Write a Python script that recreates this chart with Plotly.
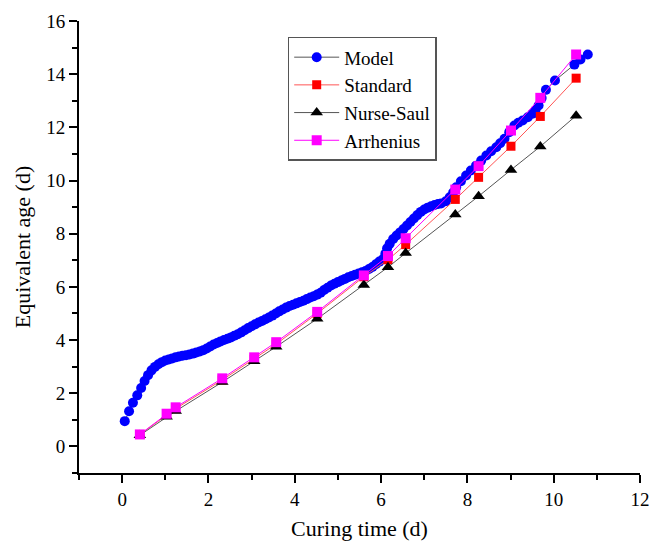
import plotly.graph_objects as go

# Model (blue circles)
model_x = [0.06, 0.16, 0.25, 0.35, 0.44, 0.52, 0.60, 0.68, 0.76, 0.84, 0.92, 1.00, 1.08, 1.16,
           1.24, 1.32, 1.40, 1.48, 1.56, 1.64, 1.72, 1.80, 1.88, 1.96, 2.04, 2.12, 2.20, 2.28,
           2.36, 2.44, 2.52, 2.60, 2.68, 2.76, 2.84, 2.92, 3.00, 3.08, 3.16, 3.24, 3.32, 3.40,
           3.48, 3.56, 3.64, 3.72, 3.80, 3.88, 3.96, 4.04, 4.12, 4.20, 4.28, 4.36, 4.44, 4.52,
           4.60, 4.68, 4.76, 4.84, 4.92, 5.00, 5.08, 5.16, 5.24, 5.32, 5.40, 5.48, 5.56, 5.64,
           5.72, 5.80, 5.88, 5.96, 6.04, 6.10, 6.14, 6.20, 6.28, 6.36, 6.44, 6.52, 6.60, 6.68,
           6.76, 6.84, 6.92, 7.00, 7.08, 7.16, 7.24, 7.32, 7.39, 7.50, 7.59, 7.67, 7.74, 7.85,
           7.97, 8.08, 8.20, 8.32, 8.44, 8.55, 8.67, 8.76, 8.86, 8.97, 9.09, 9.18, 9.28, 9.40,
           9.51, 9.58, 9.65, 9.72, 9.82, 10.03, 10.48, 10.62, 10.79]
model_y = [0.95, 1.32, 1.64, 1.92, 2.20, 2.46, 2.68, 2.86, 2.99, 3.09, 3.17, 3.23, 3.27, 3.31,
           3.35, 3.38, 3.41, 3.43, 3.46, 3.49, 3.53, 3.57, 3.62, 3.68, 3.76, 3.83, 3.89, 3.95,
           4.00, 4.05, 4.10, 4.16, 4.22, 4.29, 4.37, 4.45, 4.52, 4.59, 4.66, 4.72, 4.78, 4.85,
           4.92, 5.00, 5.08, 5.15, 5.22, 5.28, 5.33, 5.38, 5.43, 5.48, 5.54, 5.60, 5.65, 5.71,
           5.78, 5.88, 5.97, 6.05, 6.12, 6.18, 6.24, 6.30, 6.36, 6.41, 6.46, 6.50, 6.55, 6.60,
           6.67, 6.75, 6.85, 6.95, 7.04, 7.25, 7.45, 7.62, 7.80, 7.93, 8.05, 8.18, 8.31, 8.44,
           8.57, 8.70, 8.82, 8.91, 8.98, 9.03, 9.08, 9.12, 9.14, 9.22, 9.37, 9.55, 9.75, 9.97,
           10.19, 10.38, 10.56, 10.75, 10.94, 11.10, 11.25, 11.40, 11.57, 11.82, 12.07, 12.17,
           12.26, 12.38, 12.51, 12.65, 12.82, 13.10, 13.41, 13.76, 14.36, 14.55, 14.74]

# Standard / Nurse-Saul / Arrhenius share curing times
method_x = [0.41, 1.03, 1.24, 2.32, 3.06, 3.57, 4.52, 5.60, 6.16, 6.57, 7.72, 8.26, 9.01, 9.69, 10.52]
standard_y = [0.45, 1.20, 1.42, 2.50, 3.28, 3.85, 5.00, 6.38, 7.02, 7.59, 9.29, 10.12, 11.29, 12.41, 13.85]
nurse_saul_y = [0.42, 1.12, 1.33, 2.42, 3.20, 3.75, 4.80, 6.07, 6.74, 7.27, 8.72, 9.41, 10.40, 11.28, 12.44]
arrhenius_y = [0.45, 1.23, 1.47, 2.56, 3.35, 3.92, 5.06, 6.43, 7.16, 7.83, 9.66, 10.54, 11.88, 13.11, 14.74]

x_ticks = [0, 2, 4, 6, 8, 10, 12]
y_ticks = [0, 2, 4, 6, 8, 10, 12, 14, 16]

FONT = "Liberation Serif, Times New Roman, serif"

fig = go.Figure()
fig.add_trace(go.Scatter(x=model_x, y=model_y, name="Model", mode="lines+markers",
                         line=dict(color="#555555", width=1),
                         marker=dict(symbol="circle", size=10, color="#0000ff")))
fig.add_trace(go.Scatter(x=method_x, y=standard_y, name="Standard", mode="lines+markers",
                         line=dict(color="#ff5555", width=1),
                         marker=dict(symbol="square", size=9, color="#ff0000")))
fig.add_trace(go.Scatter(x=method_x, y=nurse_saul_y, name="Nurse-Saul", mode="lines+markers",
                         line=dict(color="#555555", width=1),
                         marker=dict(symbol="triangle-up", size=11, color="#000000")))
fig.add_trace(go.Scatter(x=method_x, y=arrhenius_y, name="Arrhenius", mode="lines+markers",
                         line=dict(color="#ff00ff", width=1),
                         marker=dict(symbol="square", size=10, color="#ff00ff")))

axis_common = dict(showline=True, linecolor="black", linewidth=2, ticks="outside",
                   ticklen=8, tickwidth=2, tickcolor="black", showgrid=False, zeroline=False,
                   ticklabeloverflow="allow", automargin=False,
                   tickfont=dict(family=FONT, size=19, color="black"),
                   minor=dict(ticks="outside", ticklen=5, tickwidth=2, tickcolor="black", dtick=1))

fig.update_xaxes(range=[-1, 12], tickvals=x_ticks, title=dict(text="Curing time (d)",
                 font=dict(family=FONT, size=22, color="black"), standoff=12), **axis_common)
fig.update_yaxes(range=[-1, 16], tickvals=y_ticks, title=dict(text="Equivalent age (d)",
                 font=dict(family=FONT, size=22, color="black"), standoff=10), **axis_common)

fig.update_layout(
    width=649, height=546,
    margin=dict(l=79, r=9, t=21, b=73),
    paper_bgcolor="white", plot_bgcolor="white",
    font=dict(family=FONT, color="black"),
    legend=dict(x=0.372, y=0.965, xanchor="left", yanchor="top",
                bordercolor="#555555", borderwidth=1.5, bgcolor="white",
                font=dict(family=FONT, size=19, color="black"),
                itemwidth=45, tracegroupgap=0),
)

fig.write_html("out.html", config={"displayModeBar": False},
               post_script="document.body.style.margin='0';")
